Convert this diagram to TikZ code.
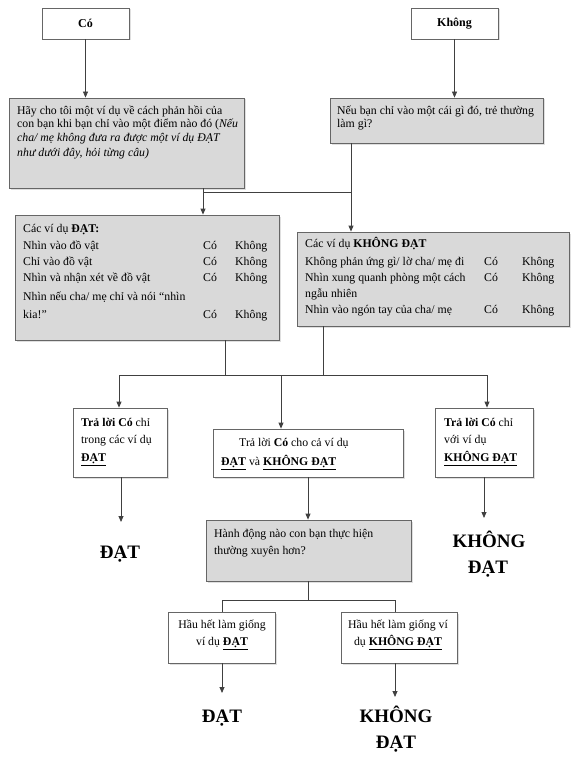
\documentclass[tikz,border=0pt]{standalone}
\usepackage{fontspec}
\setmainfont{Liberation Serif}
\usetikzlibrary{arrows.meta,shadows}
\newcommand\myul[1]{\underline{\textbf{#1}}}
\tikzset{
  box/.style={draw=black!60, line width=0.8pt, inner sep=0pt,
    drop shadow={shadow xshift=1.5pt, shadow yshift=-1.5pt, fill=black!25}},
  graybox/.style={box, fill=black!15},
  whitebox/.style={box, fill=white},
  txt/.style={anchor=base west, inner sep=0pt, font=\fontsize{11.8}{14}\selectfont},
  ctxt/.style={txt, anchor=base},
  big/.style={anchor=base, inner sep=0pt, font=\fontsize{19}{22}\selectfont\bfseries},
  conn/.style={draw=black!75, line width=0.8pt},
  arr/.style={conn, -{Triangle[length=6pt,width=5pt]}},
}
\begin{document}
\begin{tikzpicture}[x=1pt, y=-1pt]
\useasboundingbox (0,0) rectangle (576,757);
% boxes
\node[whitebox, minimum width=87pt, minimum height=31pt, font=\fontsize{12}{14}\selectfont\bfseries] (co) at (85.5,23.5) {Có};
\node[whitebox, minimum width=87pt, minimum height=31pt, font=\fontsize{12}{14}\selectfont\bfseries] (kh) at (454.5,23.5) {Không};
\node[graybox, minimum width=235pt, minimum height=90pt] (b1) at (126.5,143) {};
\node[graybox, minimum width=213pt, minimum height=45pt] (b2) at (436.5,120.5) {};
\node[graybox, minimum width=264pt, minimum height=125pt] (b3) at (147,277.5) {};
\node[graybox, minimum width=272pt, minimum height=94pt] (b4) at (433,279) {};
\node[whitebox, minimum width=94pt, minimum height=69pt] (b5) at (120,442.5) {};
\node[whitebox, minimum width=190pt, minimum height=48pt] (b6) at (308,453) {};
\node[whitebox, minimum width=98pt, minimum height=69pt] (b7) at (484,442.5) {};
\node[graybox, minimum width=205pt, minimum height=61pt] (b8) at (308.5,550.5) {};
\node[whitebox, minimum width=107pt, minimum height=51pt] (b9) at (221.5,637.5) {};
\node[whitebox, minimum width=116pt, minimum height=51pt] (b10) at (399,637.5) {};
% texts box 1
\node[txt] (b1a) at (17,114) {Hãy cho tôi một ví dụ về cách phản hồi của};
\node[txt] (b1b) at (17,128) {con bạn khi bạn chỉ vào một điểm nào đó (\textit{Nếu}};
\node[txt] (b1c) at (17,142) {\textit{cha/ mẹ không đưa ra được một ví dụ ĐẠT}};
\node[txt] (b1d) at (17,157) {\textit{như dưới đây, hỏi từng câu)}};
% box 2
\node[txt] (b2a) at (337,114) {Nếu bạn chỉ vào một cái gì đó, trẻ thường};
\node[txt] (b2b) at (337,128) {làm gì?};
% box 3
\node[txt] (b3a) at (23,232) {Các ví dụ \textbf{ĐẠT:}};
\node[txt] (b3b) at (23,249) {\makebox[180pt][l]{Nhìn vào đồ vật}\makebox[32pt][l]{Có}Không};
\node[txt] (b3c) at (23,265) {\makebox[180pt][l]{Chỉ vào đồ vật}\makebox[32pt][l]{Có}Không};
\node[txt] (b3d) at (23,281) {\makebox[180pt][l]{Nhìn và nhận xét về đồ vật}\makebox[32pt][l]{Có}Không};
\node[txt] (b3e) at (23,300) {Nhìn nếu cha/ mẹ chỉ và nói “nhìn};
\node[txt] (b3f) at (23,318) {\makebox[180pt][l]{kia!”}\makebox[32pt][l]{Có}Không};
% box 4
\node[txt] (b4a) at (305,247) {Các ví dụ \textbf{KHÔNG ĐẠT}};
\node[txt] (b4b) at (305,265) {\makebox[179pt][l]{Không phản ứng gì/ lờ cha/ mẹ đi}\makebox[38pt][l]{Có}Không};
\node[txt] (b4c) at (305,281) {\makebox[179pt][l]{Nhìn xung quanh phòng một cách}\makebox[38pt][l]{Có}Không};
\node[txt] (b4d) at (305,297) {ngẫu nhiên};
\node[txt] (b4e) at (305,313) {\makebox[179pt][l]{Nhìn vào ngón tay của cha/ mẹ}\makebox[38pt][l]{Có}Không};
% box 5
\node[txt] (b5a) at (81,426) {\textbf{Trả lời Có} chỉ};
\node[txt] (b5b) at (81,443) {trong các ví dụ};
\node[txt] (b5c) at (81,461) {\myul{ĐẠT}};
% box 6
\node[txt] (b6a) at (239,446) {Trả lời \textbf{Có} cho cả ví dụ};
\node[txt] (b6b) at (221,465) {\myul{ĐẠT} và \myul{KHÔNG ĐẠT}};
% box 7
\node[txt] (b7a) at (444,426) {\textbf{Trả lời Có} chỉ};
\node[txt] (b7b) at (444,443) {với ví dụ};
\node[txt] (b7c) at (444,461) {\myul{KHÔNG ĐẠT}};
% box 8
\node[txt] (b8a) at (214,537) {Hành động nào con bạn thực hiện};
\node[txt] (b8b) at (214,554) {thường xuyên hơn?};
% box 9, 10
\node[ctxt] (b9a) at (222,628) {Hầu hết làm giống};
\node[ctxt] (b9b) at (222,645) {ví dụ \myul{ĐẠT}};
\node[ctxt] (b10a) at (398,628) {Hầu hết làm giống ví};
\node[ctxt] (b10b) at (398,645) {dụ \myul{KHÔNG ĐẠT}};
% results
\node[big] (r1) at (120,558) {ĐẠT};
\node[big] (r2a) at (489,547) {KHÔNG};
\node[big] (r2b) at (488,573) {ĐẠT};
\node[big] (r3) at (222,722) {ĐẠT};
\node[big] (r4a) at (396,722) {KHÔNG};
\node[big] (r4b) at (396,748) {ĐẠT};
% junction coordinates
\coordinate (j1a) at (203,192);
\coordinate (j1b) at (351,192);
\coordinate (j2a) at (225,375);
\coordinate (j2b) at (323,375);
\coordinate (h2l) at (119,375);
\coordinate (h2m) at (281,375);
\coordinate (h2r) at (487,375);
\coordinate (e1) at (121,522);
\coordinate (e2) at (484,518);
\coordinate (j3) at (308,600);
\coordinate (h3l) at (222,600);
\coordinate (h3r) at (395,600);
\coordinate (e3) at (222,693);
\coordinate (e4) at (395,697);
% connectors
\draw[arr] (co) -- (b1.north -| co);
\draw[arr] (kh) -- (b2.north -| kh);
\draw[conn] (b1.south -| j1a) -- (j1a) -- (j1b);
\draw[conn] (b2.south -| j1b) -- (j1b);
\draw[arr] (j1a) -- (b3.north -| j1a);
\draw[arr] (j1b) -- (b4.north -| j1b);
\draw[conn] (b3.south -| j2a) -- (j2a);
\draw[conn] (b4.south -| j2b) -- (j2b);
\draw[conn] (h2l) -- (h2r);
\draw[arr] (h2l) -- (b5.north -| h2l);
\draw[arr] (h2m) -- (b6.north -| h2m);
\draw[arr] (h2r) -- (b7.north -| h2r);
\draw[arr] (b5.south -| e1) -- (e1);
\draw[arr] (b6.south -| j3) -- (b8.north -| j3);
\draw[arr] (b7.south -| e2) -- (e2);
\draw[conn] (b8.south -| j3) -- (j3);
\draw[conn] (h3l) -- (h3r);
\draw[conn] (h3l) -- (b9.north -| h3l);
\draw[conn] (h3r) -- (b10.north -| h3r);
\draw[arr] (b9.south -| e3) -- (e3);
\draw[arr] (b10.south -| e4) -- (e4);
\end{tikzpicture}
\end{document}
